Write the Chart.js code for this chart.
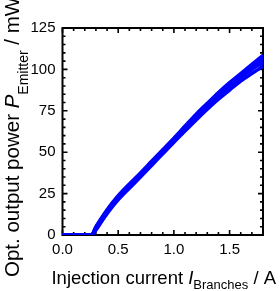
<!DOCTYPE html>
<html>
<head>
<meta charset="utf-8">
<script src="https://cdn.jsdelivr.net/npm/chart.js@4/dist/chart.umd.min.js"></script>
<style>
  html, body { margin: 0; padding: 0; background: #fff; }
  #wrap { width: 280px; height: 291px; }
</style>
</head>
<body>
<div id="wrap"><canvas id="myChart" width="280" height="291"></canvas></div>
<script>
//data
const current = [0, 0.1, 0.2, 0.26, 0.3, 0.35, 0.4, 0.45, 0.5, 0.6, 0.7, 0.8, 0.9, 1.0, 1.1, 1.2, 1.3, 1.4, 1.5, 1.6, 1.7, 1.8]
const emitter1 = [0, 0, 0, 0, 4.0, 9.2, 14.0, 18.5, 22.5, 29.5, 36.0, 43.0, 50.0, 57.0, 64.0, 71.0, 77.5, 84.0, 89.5, 95.0, 100.0, 105.0]
const emitter2 = [0, 0, 0, 0, 3.0, 8.0, 12.8, 17.2, 21.2, 28.2, 35.0, 42.0, 49.0, 56.0, 62.8, 69.5, 76.0, 82.0, 87.5, 93.0, 97.5, 102.0]
const emitter3 = [0, 0, 0, 0, 5.0, 10.3, 15.2, 19.7, 23.8, 30.8, 37.5, 44.5, 51.5, 58.5, 65.8, 73.0, 79.5, 86.0, 92.0, 97.5, 103.0, 108.5]
const emitter4 = [0, 0, 0, 0, 4.5, 9.7, 14.5, 19.0, 23.0, 30.0, 36.8, 43.8, 50.8, 57.8, 64.8, 71.8, 79.0, 85.5, 90.5, 96.0, 101.5, 106.5]
const emitter5 = [0, 0, 0, 0, 3.5, 8.6, 13.4, 17.8, 21.8, 29.0, 35.5, 42.5, 49.5, 56.5, 63.5, 70.0, 76.5, 83.0, 89.0, 95.5, 100.5, 104.0]
const emitter6 = [0, 0, 0, 0, 4.5, 9.8, 14.7, 19.2, 23.3, 30.3, 37.0, 44.0, 51.0, 58.0, 65.0, 72.3, 78.8, 85.0, 91.0, 96.5, 102.0, 107.5]
const emitters = [emitter1, emitter2, emitter3, emitter4, emitter5, emitter6]

//tick labels
const xTicks = [0.0, 0.5, 1.0, 1.5]
const yTicks = [0, 25, 50, 75, 100, 125]
const xMinorStep = 0.1
const yMinorStep = 5

const FONT = '"Liberation Sans", Arial, sans-serif'

function toPoints(values){
    let points = []
    values.forEach((v, i) => {
        points.push({x: current[i], y: v})
    });
    return points
}

//draw a text made of pieces (normal, italic, subscript)
function drawPieces(ctx, pieces, x, y, align){
    let total = 0
    pieces.forEach(p => {
        ctx.font = p.font
        total += ctx.measureText(p.text).width
    });
    let pos = align === 'center' ? x - total / 2 : x
    ctx.textBaseline = 'alphabetic'
    ctx.textAlign = 'left'
    pieces.forEach(p => {
        ctx.font = p.font
        ctx.fillText(p.text, pos, y + (p.dy || 0))
        pos += ctx.measureText(p.text).width
    });
}

//box with inward ticks on all four sides + axis titles
const framePlugin = {
    id: 'frame',
    beforeDatasetsDraw(chart){
        const ctx = chart.ctx
        const a = chart.chartArea
        const xs = chart.scales.x
        const ys = chart.scales.y
        ctx.save()
        ctx.strokeStyle = '#000'
        ctx.lineWidth = 1.6
        ctx.lineCap = 'butt'
        ctx.beginPath()
        //x ticks
        for (let v = 0; v <= xs.max + 1e-9; v += xMinorStep){
            const px = xs.getPixelForValue(v)
            const major = xTicks.some(t => Math.abs(t - v) < 1e-6)
            const len = major ? 5 : 3
            ctx.moveTo(px, a.bottom); ctx.lineTo(px, a.bottom - len)
            ctx.moveTo(px, a.top); ctx.lineTo(px, a.top + len)
        }
        //y ticks
        for (let v = 0; v <= ys.max + 1e-9; v += yMinorStep){
            const py = ys.getPixelForValue(v)
            const major = yTicks.some(t => Math.abs(t - v) < 1e-6)
            const len = major ? 5 : 3
            ctx.moveTo(a.left, py); ctx.lineTo(a.left + len, py)
            ctx.moveTo(a.right, py); ctx.lineTo(a.right - len, py)
        }
        ctx.stroke()
        ctx.lineWidth = 2
        ctx.strokeRect(a.left, a.top, a.right - a.left, a.bottom - a.top)

        ctx.fillStyle = '#000'
        //x title
        drawPieces(ctx, [
            {text: 'Injection current ', font: '18.5px ' + FONT},
            {text: 'I', font: 'italic 18.5px ' + FONT},
            {text: 'Branches', font: '13px ' + FONT, dy: 5},
            {text: ' / A', font: '18.5px ' + FONT}
        ], (a.left + a.right) / 2 + 1, 284, 'center')
        //y title
        ctx.translate(18.5, 277)
        ctx.rotate(-Math.PI / 2)
        drawPieces(ctx, [
            {text: 'Opt. output power ', font: '20.5px ' + FONT},
            {text: 'P', font: 'italic 20.5px ' + FONT},
            {text: 'Emitter', font: '14px ' + FONT, dy: 9},
            {text: ' / mW', font: '20.5px ' + FONT}
        ], 0, 0, 'left')
        ctx.restore()
    }
}

const ctxLine = document.getElementById('myChart').getContext('2d');
const myChart = new Chart(ctxLine, {
    type: 'line',
    data: {
        datasets: emitters.map(e => ({
            data: toPoints(e),
            borderColor: '#0000ff',
            borderWidth: 3.5,
            pointRadius: 0,
            cubicInterpolationMode: 'monotone',
            fill: false
        }))
    },
    options: {
        responsive: false,
        animation: false,
        events: [],
        layout: { padding: { top: 28, right: 17, left: 0, bottom: 0 } },
        plugins: { legend: { display: false }, tooltip: { enabled: false } },
        scales: {
            x: {
                type: 'linear',
                min: 0,
                max: 1.8,
                border: { display: false },
                grid: { display: false, drawTicks: false },
                afterBuildTicks: scale => { scale.ticks = xTicks.map(v => ({value: v})) },
                afterFit: scale => { scale.height = 56 },
                ticks: {
                    padding: 6,
                    color: '#000',
                    font: { family: FONT, size: 15 },
                    callback: v => Number(v).toFixed(1)
                }
            },
            y: {
                type: 'linear',
                min: 0,
                max: 125,
                border: { display: false },
                grid: { display: false, drawTicks: false },
                afterBuildTicks: scale => { scale.ticks = yTicks.map(v => ({value: v})) },
                afterFit: scale => { scale.width = 62.5 },
                ticks: {
                    padding: 7,
                    color: '#000',
                    font: { family: FONT, size: 15 }
                }
            }
        }
    },
    plugins: [framePlugin]
});
</script>
</body>
</html>
